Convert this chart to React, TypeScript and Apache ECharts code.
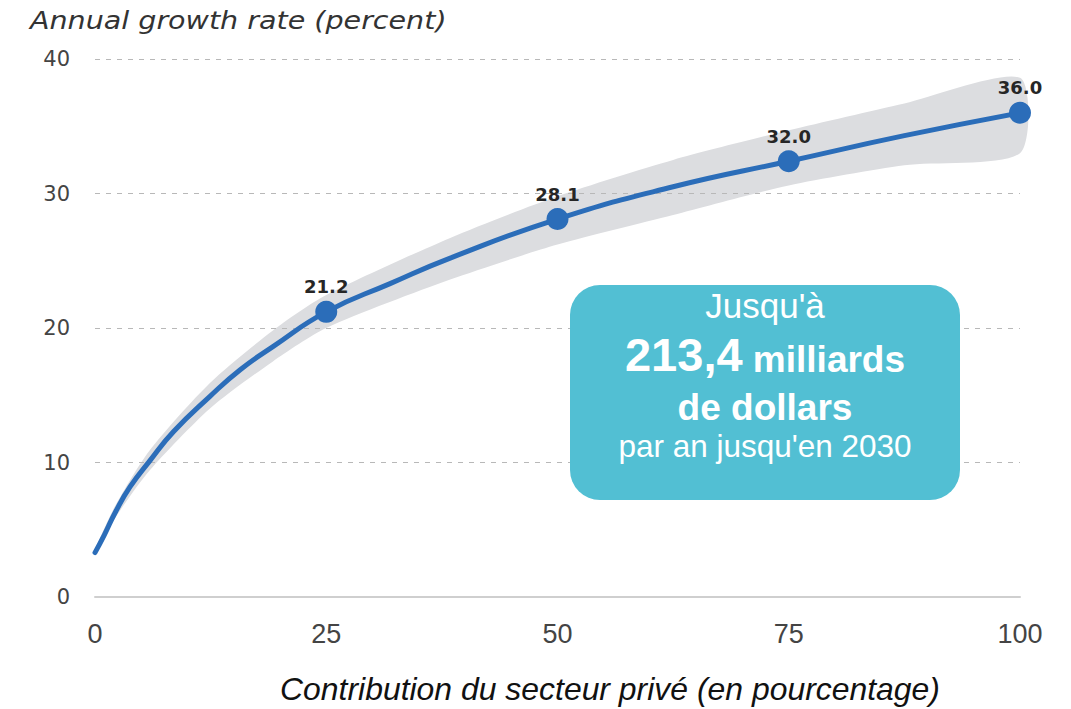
import React, { useEffect, useRef } from "react";
import * as echarts from "echarts";

// Curve (x = private-sector contribution %, y = annual growth %)
const curveX = [0, 1.0, 2.2, 3.8, 5.9, 8.5, 12.4, 15.7, 19.2, 25, 31.9, 38.4, 50, 62.5, 75, 87.5, 100];
const curveY = [3.3, 4.6, 6.3, 8.2, 10.1, 12.3, 14.9, 16.9, 18.6, 21.2, 23.3, 25.2, 28.1, 30.5, 32.4, 34.3, 36.0];

// Confidence band
const bandX = [0, 2.2, 5.9, 12.4, 19.2, 25, 38.4, 50, 62.5, 75, 87.5, 100];
const bandLower = [3.1, 5.9, 9.4, 14.0, 17.5, 20.0, 23.6, 26.2, 28.4, 30.6, 32.1, 33.0];
const bandUpper = [3.5, 6.8, 10.9, 15.9, 19.8, 22.45, 26.7, 29.8, 32.5, 34.7, 36.7, 38.6];

// Labelled points (position on the curve, and the printed label)
const pointX = [25, 50, 75, 100];
const pointY = [21.2, 28.1, 32.4, 36.0];
const pointLabels = ["21.2", "28.1", "32.0", "36.0"];

// Axes
const xTicks = [0, 25, 50, 75, 100];
const yTicks = [0, 10, 20, 30, 40];

const titleText = "Annual growth rate (percent)";
const xAxisTitle = "Contribution du secteur privé (en pourcentage)";
const boxLines = ["Jusqu'à", "213,4", "milliards", "de dollars", "par an jusqu'en 2030"];

const BLUE = "#2b6db9";
const SANS = '"Liberation Sans", Arial, sans-serif';

export default function App() {
  const ref = useRef<HTMLDivElement>(null);
  useEffect(() => {
    document.body.style.margin = "0";
    if (!ref.current) return;
    const chart = echarts.init(ref.current, null, { renderer: "svg" });
    const option: any = {
      animation: false,
      backgroundColor: "#ffffff",
      grid: { left: 95, right: 51, top: 59, bottom: 112, containLabel: false },
      xAxis: {
        type: "value",
        min: xTicks[0],
        max: xTicks[xTicks.length - 1],
        interval: 25,
        axisLine: { show: true, onZero: false, lineStyle: { color: "#cfcfcf", width: 2 } },
        axisTick: { show: false },
        splitLine: { show: false },
        axisLabel: {
          margin: 23,
          fontFamily: SANS,
          fontSize: 27,
          color: "#444",
        },
      },
      yAxis: {
        type: "value",
        min: yTicks[0],
        max: yTicks[yTicks.length - 1],
        interval: 10,
        axisLine: { show: false },
        axisTick: { show: false },
        axisLabel: {
          margin: 25,
          fontFamily: '"DejaVu Sans", sans-serif',
          fontSize: 21,
          color: "#444",
        },
        splitLine: {
          show: true,
          lineStyle: { color: "#b8b8b8", type: [5, 6], width: 1 },
        },
      },
      series: [
        {
          name: "band",
          type: "custom",
          silent: true,
          z: -1,
          data: [[bandX[0], bandLower[0]]],
          renderItem: (params: any, api: any) => {
            const up = bandX.map((x, i) => api.coord([x, bandUpper[i]]));
            const lo = bandX.map((x, i) => api.coord([x, bandLower[i]])).reverse();
            return {
              type: "polygon",
              shape: { points: up.concat(lo), smooth: 0.25 },
              style: { fill: "#dcdde0" },
            };
          },
        },
        {
          name: "curve",
          type: "line",
          smooth: 0.5,
          symbol: "none",
          lineStyle: { color: BLUE, width: 5, cap: "round" },
          data: curveX.map((x, i) => [x, curveY[i]]),
          z: 2,
        },
        {
          name: "points",
          type: "scatter",
          symbol: "circle",
          symbolSize: 22,
          itemStyle: { color: BLUE, opacity: 1 },
          label: {
            show: true,
            position: "top",
            distance: 5,
            formatter: (p: any) => pointLabels[p.dataIndex],
            fontFamily: '"DejaVu Sans", sans-serif',
            fontWeight: "bold",
            fontSize: 18,
            color: "#262626",
          },
          data: pointX.map((x, i) => [x, pointY[i]]),
          z: 3,
        },
      ],
      graphic: [
        {
          type: "text",
          x: 30,
          y: 21,
          scaleX: 1.19,
          style: {
            text: titleText,
            fontFamily: '"DejaVu Sans", sans-serif',
            fontStyle: "italic",
            fontSize: 24,
            fill: "#333",
            textVerticalAlign: "middle",
          },
        },
        {
          type: "text",
          x: 610,
          y: 690,
          scaleX: 1.03,
          style: {
            text: xAxisTitle,
            fontFamily: SANS,
            fontStyle: "italic",
            fontSize: 31,
            fill: "#111",
            textAlign: "center",
            textVerticalAlign: "middle",
          },
        },
        {
          type: "group",
          x: 570,
          y: 285,
          z: 100,
          children: [
            {
              type: "rect",
              z: 100,
              shape: { x: 0, y: 0, width: 390, height: 215, r: 30 },
              style: { fill: "#52bfd3" },
            },
            {
              type: "text",
              z: 101,
              x: 195,
              y: 20,
              style: {
                text: boxLines[0],
                fontFamily: SANS,
                fontSize: 35,
                fill: "#fff",
                textAlign: "center",
                textVerticalAlign: "middle",
              },
            },
            {
              type: "text",
              z: 101,
              x: 195,
              y: 69,
              style: {
                text: "{a|" + boxLines[1] + "}{b| " + boxLines[2] + "}",
                textAlign: "center",
                textVerticalAlign: "middle",
                rich: {
                  a: {
                    fontFamily: SANS,
                    fontSize: 47,
                    fontWeight: "bold",
                    fill: "#fff",
                    verticalAlign: "bottom",
                  },
                  b: {
                    fontFamily: SANS,
                    fontSize: 37,
                    fontWeight: "bold",
                    fill: "#fff",
                    verticalAlign: "bottom",
                  },
                },
              },
            },
            {
              type: "text",
              z: 101,
              x: 195,
              y: 122,
              style: {
                text: boxLines[3],
                fontFamily: SANS,
                fontSize: 37,
                fontWeight: "bold",
                fill: "#fff",
                textAlign: "center",
                textVerticalAlign: "middle",
              },
            },
            {
              type: "text",
              z: 101,
              x: 195,
              y: 161,
              style: {
                text: boxLines[4],
                fontFamily: SANS,
                fontSize: 31.5,
                fill: "#fff",
                textAlign: "center",
                textVerticalAlign: "middle",
              },
            },
          ],
        },
      ],
    };
    chart.setOption(option);
    return () => chart.dispose();
  }, []);
  return <div ref={ref} style={{ width: 1071, height: 709 }} />;
}
